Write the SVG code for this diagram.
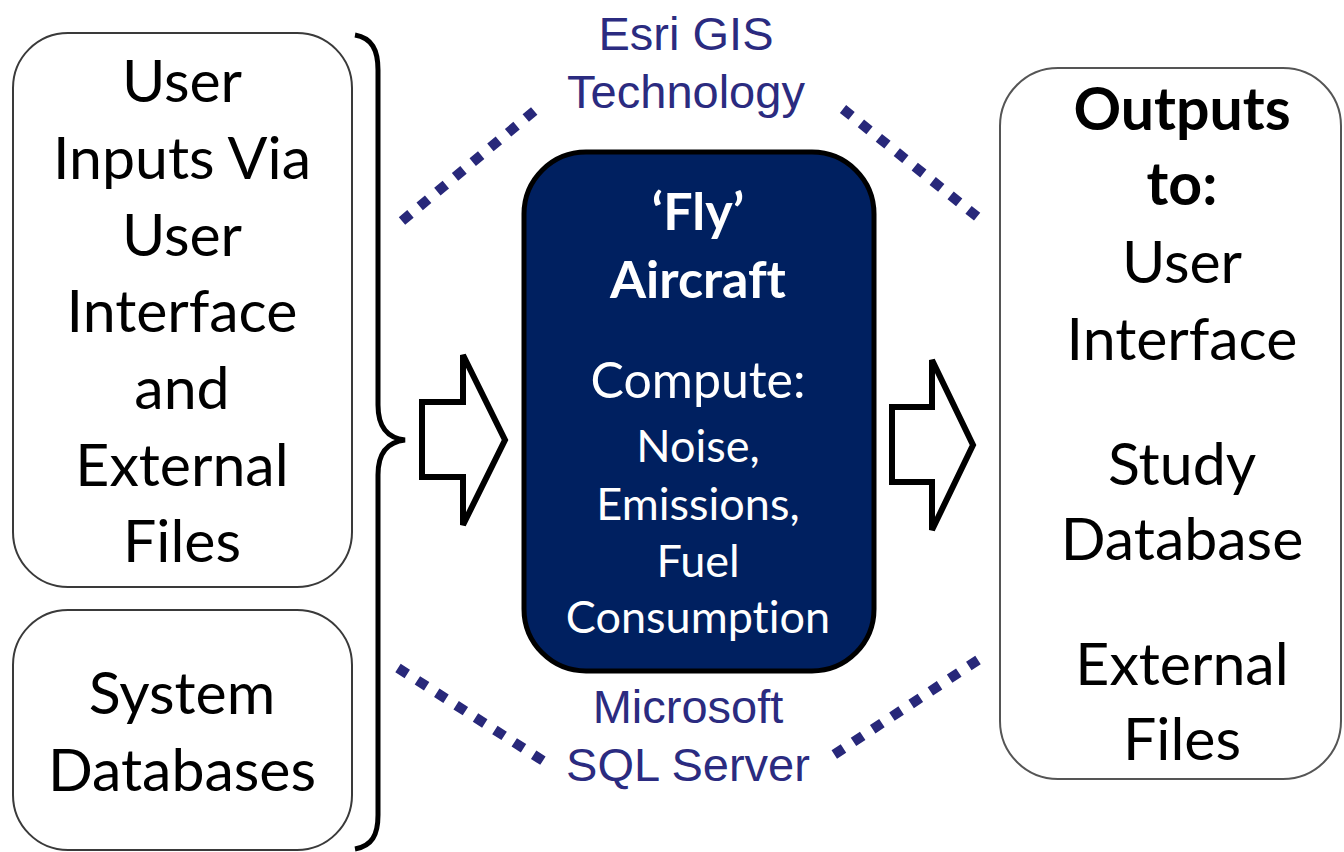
<svg xmlns="http://www.w3.org/2000/svg" width="1344" height="852" viewBox="0 0 1344 852">
<defs>
<style>
.box{fill:#fff;stroke:#3a3a3a;stroke-width:2}
.t{font-family:Lato,"Noto Sans",sans-serif;font-size:59px;fill:#000;text-anchor:middle;font-variant-ligatures:none}
.tb{font-weight:bold}
.w{font-family:Lato,"Noto Sans",sans-serif;fill:#fff;text-anchor:middle;font-variant-ligatures:none}
.b{font-family:"Liberation Sans",Arial,sans-serif;font-size:47px;fill:#2b2b80;text-anchor:middle}
.dot{fill:none;stroke:#28287a;stroke-width:10;stroke-dasharray:11 12}
.arrow{fill:#fff;stroke:#000;stroke-width:6;stroke-linejoin:miter}
</style>
</defs>
<rect width="1344" height="852" fill="#fff"/>
<g id="user-inputs">
<rect class="box" x="13" y="33" width="339" height="554" rx="55"/>
<text class="t" x="182" y="102">User</text>
<text class="t" x="182" y="179">Inputs Via</text>
<text class="t" x="182" y="256">User</text>
<text class="t" x="182" y="332">Interface</text>
<text class="t" x="182" y="409">and</text>
<text class="t" x="182" y="486">External</text>
<text class="t" x="182" y="562">Files</text>
</g>
<g id="system-databases">
<rect class="box" x="13" y="610" width="339" height="240" rx="55"/>
<text class="t" x="182" y="714">System</text>
<text class="t" x="182" y="791">Databases</text>
</g>
<g id="brace">
<path d="M355,35 C372,38 378,50 378,70 L378,405 C378,428 388,438 405,440 C388,442 378,452 378,475 L378,815 C378,835 372,846 355,849" fill="none" stroke="#000" stroke-width="5"/>
</g>
<g id="fly-aircraft">
<rect x="524" y="152" width="350" height="519" rx="62" fill="#002060" stroke="#000" stroke-width="5"/>
<text class="w tb" x="698" y="230" font-size="52">‘Fly’</text>
<text class="w tb" x="698" y="298" font-size="52">Aircraft</text>
<text class="w" x="698" y="398" font-size="50">Compute:</text>
<text class="w" x="698" y="462" font-size="45">Noise,</text>
<text class="w" x="698" y="520" font-size="45">Emissions,</text>
<text class="w" x="698" y="577" font-size="45">Fuel</text>
<text class="w" x="698" y="633" font-size="45">Consumption</text>
</g>
<g id="outputs">
<rect class="box" x="1000" y="68" width="341" height="711" rx="58" style="stroke:#555"/>
<text class="t tb" x="1182" y="130">Outputs</text>
<text class="t tb" x="1182" y="205">to:</text>
<text class="t" x="1182" y="283">User</text>
<text class="t" x="1182" y="360">Interface</text>
<text class="t" x="1182" y="485">Study</text>
<text class="t" x="1182" y="560">Database</text>
<text class="t" x="1182" y="685">External</text>
<text class="t" x="1182" y="760">Files</text>
</g>
<g id="esri-label">
<text class="b" x="686" y="50">Esri GIS</text>
<text class="b" x="686" y="108">Technology</text>
</g>
<g id="sql-label">
<text class="b" x="688" y="723">Microsoft</text>
<text class="b" x="688" y="781">SQL Server</text>
</g>
<g id="connectors">
<path class="arrow" d="M422,402 L463,402 L463,355 L505,440 L463,525 L463,477 L422,477 Z"/>
<path class="arrow" d="M892,407 L932,407 L932,360 L973,445 L932,530 L932,482 L892,482 Z"/>
<path class="dot" d="M402,221 L539,107"/>
<path class="dot" d="M843,109 L980,219"/>
<path class="dot" d="M398,668 L545,762"/>
<path class="dot" d="M978,660 L832,756"/>
</g>
</svg>
